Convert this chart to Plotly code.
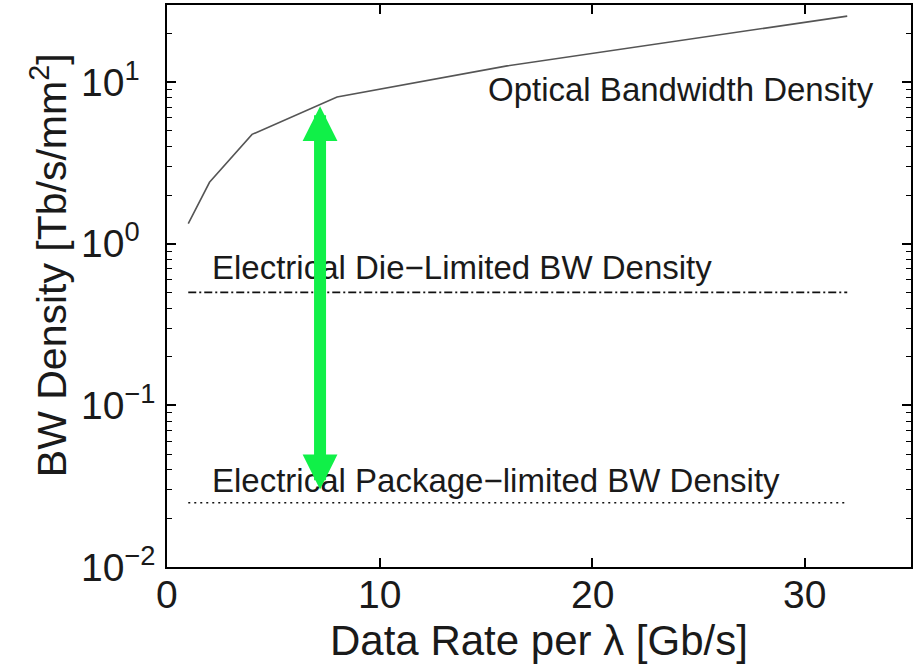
import math
import plotly.graph_objects as go

# ---- data ----
rate_gbps = [1, 2, 4, 8, 16, 32]
optical_density = [1.33, 2.4, 4.75, 8.1, 12.6, 25.6]

limit_x = [1, 32]
die_limited = [0.5, 0.5]
package_limited = [0.025, 0.025]

x_ticks = [0, 10, 20, 30]
x_ticktext = ["0", "10", "20", "30"]
y_ticks = [0.01, 0.1, 1, 10]
y_ticktext = ["10<sup>\u22122</sup>", "10<sup>\u22121</sup>", "10<sup>0</sup>", "10<sup>1</sup>"]
y_minor = [m * d for d in (0.01, 0.1, 1, 10) for m in range(2, 10) if m * d <= 30]

arrow_x = 7.2
arrow_top = 7.1
arrow_bottom = 0.030

labels = [
    ("Optical Bandwidth Density", 15.0, 9.05),
    ("Electrical Die\u2212Limited BW Density", 2.0, 0.71),
    ("Electrical Package\u2212limited BW Density", 2.0, 0.0342),
]

FONT = "Liberation Sans, Arial, Helvetica, sans-serif"
TXT = "#1a1a1a"
GREEN = "#10F048"

fig = go.Figure()
fig.add_trace(go.Scatter(x=rate_gbps, y=optical_density, mode="lines",
                         line=dict(color="#555555", width=1.6), showlegend=False))
fig.add_trace(go.Scatter(x=limit_x, y=die_limited, mode="lines",
                         line=dict(color="#111111", width=1.6, dash="8px,3px,2px,3px"),
                         showlegend=False))
fig.add_trace(go.Scatter(x=limit_x, y=package_limited, mode="lines",
                         line=dict(color="#111111", width=1.6, dash="2px,4px"),
                         showlegend=False))

annotations = []
for text, lx, ly in labels:
    annotations.append(dict(text=text, x=lx, y=math.log10(ly), xref="x", yref="y",
                            xanchor="left", yanchor="middle", showarrow=False,
                            font=dict(family=FONT, size=33, color=TXT)))

# tick labels (MATLAB style: left-aligned "10" with superscript exponent)
for v, t in zip(y_ticks, y_ticktext):
    annotations.append(dict(text=t, x=0, y=math.log10(v), xref="paper", yref="y",
                            xanchor="left", yanchor="middle", xshift=-88, yshift=3,
                            showarrow=False, font=dict(family=FONT, size=39, color=TXT)))
for v, t in zip(x_ticks, x_ticktext):
    annotations.append(dict(text=t, x=v, y=0, xref="x", yref="paper",
                            xanchor="center", yanchor="middle", yshift=-27,
                            showarrow=False, font=dict(family=FONT, size=39, color=TXT)))

annotations.append(dict(text="", x=arrow_x, y=math.log10(arrow_top),
                        ax=arrow_x, ay=math.log10(arrow_bottom),
                        xref="x", yref="y", axref="x", ayref="y",
                        showarrow=True, arrowhead=2, startarrowhead=2,
                        arrowside="end+start", arrowwidth=12,
                        arrowsize=0.58, startarrowsize=0.58,
                        arrowcolor=GREEN, standoff=0, startstandoff=0, borderpad=0))

annotations.append(dict(text="Data Rate per \u03bb [Gb/s]", x=0.5, y=0, xref="paper", yref="paper",
                        xanchor="center", yanchor="middle", yshift=-73, showarrow=False,
                        font=dict(family=FONT, size=42, color=TXT)))
annotations.append(dict(text="BW Density [Tb/s/mm<sup>2</sup>]", x=0, y=0.537, xref="paper", yref="paper",
                        xanchor="center", yanchor="middle", xshift=-118, textangle=-90,
                        showarrow=False, font=dict(family=FONT, size=41, color=TXT)))

fig.update_layout(
    width=916, height=666,
    margin=dict(l=167, r=3, t=5, b=99),
    paper_bgcolor="white", plot_bgcolor="white",
    font=dict(family=FONT, color=TXT),
    annotations=annotations,
)
fig.update_xaxes(range=[0, 35], tickmode="array", tickvals=x_ticks, showticklabels=False,
                 ticks="inside", ticklen=9, tickwidth=1.5, tickcolor="black",
                 showline=True, linecolor="black", linewidth=2, mirror="allticks",
                 showgrid=False, zeroline=False)
fig.update_yaxes(type="log", range=[-2, math.log10(30)], tickmode="array",
                 tickvals=y_ticks, showticklabels=False,
                 ticks="inside", ticklen=9, tickwidth=1.5, tickcolor="black",
                 minor=dict(tickmode="array", tickvals=y_minor, ticks="inside",
                            ticklen=5, tickwidth=1.2, tickcolor="black", showgrid=False),
                 showline=True, linecolor="black", linewidth=2, mirror="allticks",
                 showgrid=False, zeroline=False)

fig.write_html("out.html")
